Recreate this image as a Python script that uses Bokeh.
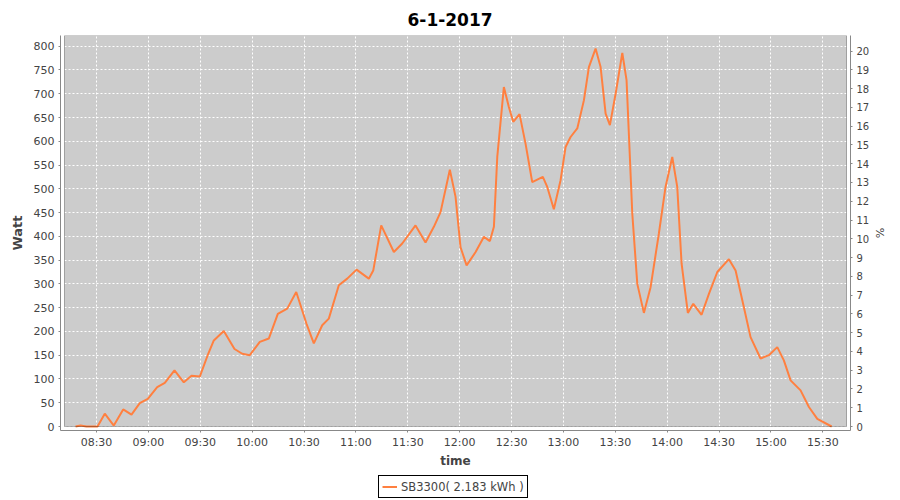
import numpy as np
from bokeh.plotting import figure
from bokeh.layouts import column
from bokeh.models import (Range1d, LinearAxis, FixedTicker, DatetimeTickFormatter,
                          BoxAnnotation, Legend, LegendItem, ColumnDataSource)
from bokeh.embed import file_html
from bokeh.resources import INLINE

# ---------------- data ----------------
DAY = "2017-06-01"
chart_title = "6-1-2017"
series_label = "SB3300( 2.183 kWh )"

times = [
    "08:17:54", "08:20:45", "08:24:12", "08:30:35", "08:34:48", "08:40:00", "08:45:26",
    "08:50:14", "08:55:02", "08:59:40", "09:05:06", "09:09:30", "09:15:06", "09:20:29",
    "09:24:56", "09:29:44", "09:34:36", "09:37:50", "09:43:37", "09:49:48", "09:54:16",
    "09:58:39", "10:04:26", "10:09:38", "10:14:51", "10:20:17", "10:25:30", "10:31:26",
    "10:35:40", "10:40:31", "10:44:20", "10:50:07", "10:54:59", "11:00:22", "11:07:28",
    "11:10:01", "11:14:38", "11:21:56", "11:26:47", "11:34:28", "11:40:15", "11:45:04",
    "11:48:56", "11:54:19", "11:57:37", "12:00:30", "12:04:00", "12:09:13", "12:14:01",
    "12:17:29", "12:19:47", "12:21:44", "12:25:33", "12:28:26", "12:30:58", "12:34:37",
    "12:38:05", "12:41:57", "12:48:05", "12:50:38", "12:54:27", "12:58:20", "13:01:14",
    "13:04:07", "13:08:00", "13:11:49", "13:14:43", "13:18:35", "13:21:29", "13:24:23",
    "13:26:52", "13:30:10", "13:34:02", "13:36:30", "13:39:48", "13:42:42", "13:46:31",
    "13:50:23", "13:55:11", "13:59:02", "14:02:55", "14:05:48", "14:08:18", "14:11:56",
    "14:15:04", "14:19:52", "14:24:07", "14:28:58", "14:35:40", "14:39:32", "14:44:20",
    "14:48:11", "14:53:58", "14:58:47", "15:03:38", "15:07:27", "15:11:20", "15:17:07",
    "15:21:56", "15:26:47", "15:35:05",
]
watts = [
    0, 2, 0, 0, 27, 2, 36,
    25, 49, 58, 83, 92, 118, 93,
    107, 105, 153, 181, 201, 163, 153,
    150, 178, 185, 237, 248, 283, 216,
    175, 213, 227, 297, 311, 330, 311,
    328, 423, 367, 385, 423, 387, 420,
    451, 540, 483, 377, 339, 367, 399,
    390, 420, 567, 714, 672, 641, 657,
    595, 514, 525, 504, 457, 518, 588,
    609, 627, 686, 756, 795, 756, 658,
    634, 700, 786, 728, 448, 300, 239,
    293, 406, 504, 567, 504, 343, 239,
    258, 235, 279, 325, 352, 328, 251,
    188, 143, 150, 167, 139, 97, 76,
    41, 16, 0,
]

time_ticks = ["08:30", "09:00", "09:30", "10:00", "10:30", "11:00", "11:30", "12:00",
              "12:30", "13:00", "13:30", "14:00", "14:30", "15:00", "15:30"]
watt_ticks = [0, 50, 100, 150, 200, 250, 300, 350, 400, 450, 500, 550, 600, 650, 700, 750, 800]
pct_ticks = [0, 1, 2, 3, 4, 5, 6, 7, 8, 9, 10, 11, 12, 13, 14, 15, 16, 17, 18, 19, 20]

x_limits = ["08:11:30", "15:43:40"]
watt_max = 822.5
pct_max = 20.83


def to_ms(t):
    if len(t) == 5:
        t = t + ":00"
    return float(np.datetime64(f"{DAY}T{t}").astype("datetime64[ms]").astype(np.int64))


xs = [to_ms(t) for t in times]
xtick_ms = [to_ms(t) for t in time_ticks]
x0, x1 = to_ms(x_limits[0]), to_ms(x_limits[1])

# ---------------- layout ----------------
W, H = 900, 472          # main chart; legend strip below takes the rest
LEG_H = 28
BL, BR, BT, BB = 60, 50, 35, 42
GAP = 4
INNER_W = W - BL - BR - 2 * GAP
INNER_H = H - BT - BB - GAP
dx = (x1 - x0) * GAP / INNER_W

FONT = "DejaVu Sans"
TXT = "#444444"
AXC = "#888888"
ORANGE = "#FF8040"

p = figure(
    output_backend="svg", toolbar_location=None,
    width=W, height=H,
    min_border_left=BL, min_border_right=BR, min_border_top=BT, min_border_bottom=BB,
    x_axis_type="datetime",
    x_range=Range1d(x0 - dx, x1 + dx),
    y_range=Range1d(-watt_max * GAP / INNER_H, watt_max),
    background_fill_color="white", border_fill_color="white",
    outline_line_color=None,
)
p.extra_y_ranges = {"pct": Range1d(-pct_max * GAP / INNER_H, pct_max)}

p.title.text = chart_title
p.title.align = "left"
p.title.offset = 347
p.title.vertical_align = "top"
p.title.text_font = FONT
p.title.text_font_size = "17px"
p.title.text_font_style = "bold"
p.title.text_color = "black"
p.title.standoff = 15

# plot area
p.add_layout(BoxAnnotation(left=x0, right=x1, bottom=0, top=watt_max,
                           fill_color="#CCCCCC", fill_alpha=1, line_color=None, level="image"))
p.add_layout(BoxAnnotation(left=x0, right=x1, bottom=0, top=watt_max,
                           fill_alpha=0, line_color="black", line_width=1, level="overlay"))

# grids
p.xgrid.ticker = FixedTicker(ticks=xtick_ms)
p.ygrid.ticker = FixedTicker(ticks=watt_ticks)
for g in (p.xgrid, p.ygrid):
    g.grid_line_color = "white"
    g.grid_line_dash = "2 2"
    g.grid_line_width = 1


def style_axis(ax, size="11px"):
    ax.axis_line_color = AXC
    ax.major_tick_line_color = AXC
    ax.major_tick_out = 2
    ax.major_tick_in = 0
    ax.minor_tick_line_color = None
    ax.major_label_text_font = FONT
    ax.major_label_text_font_size = size
    ax.major_label_text_color = TXT
    ax.axis_label_text_font = FONT
    ax.axis_label_text_color = TXT


xa = p.xaxis[0]
xa.ticker = FixedTicker(ticks=xtick_ms)
xa.formatter = DatetimeTickFormatter(minsec="%H:%M", minutes="%H:%M", hourmin="%H:%M",
                                     hours="%H:%M", days="%H:%M")
style_axis(xa)
xa.major_label_standoff = 3
xa.axis_label = "time"
xa.axis_label_text_font_size = "12px"
xa.axis_label_text_font_style = "bold"
xa.axis_label_standoff = 2

ya = p.yaxis[0]
ya.ticker = FixedTicker(ticks=watt_ticks)
style_axis(ya)
ya.major_label_standoff = 4
ya.axis_label = "Watt"
ya.axis_label_text_font_size = "13px"
ya.axis_label_text_font_style = "bold"
ya.axis_label_standoff = 6

ra = LinearAxis(y_range_name="pct", ticker=FixedTicker(ticks=pct_ticks), axis_label="%")
style_axis(ra, "10px")
ra.major_label_standoff = 4
ra.axis_label_text_font_size = "11px"
ra.axis_label_text_font_style = "normal"
ra.axis_label_standoff = 1
p.add_layout(ra, "right")

src = ColumnDataSource(dict(t=xs, w=watts))
r = p.line("t", "w", source=src, line_color=ORANGE, line_width=2)

# ---------------- legend strip ----------------
lf = figure(output_backend="svg", toolbar_location=None, width=W, height=LEG_H,
            x_range=Range1d(0, 1), y_range=Range1d(0, 1),
            x_axis_location=None, y_axis_location=None,
            min_border_left=0, min_border_right=0, min_border_top=0, min_border_bottom=0,
            outline_line_color=None, background_fill_color="white", border_fill_color="white")
lf.grid.visible = False
# same series, drawn far outside this strip's ranges: only its legend swatch shows
lr = lf.line(x=xs, y=watts, line_color=ORANGE, line_width=2)
leg = Legend(items=[LegendItem(label=series_label, renderers=[lr])],
             location=(318, 2), orientation="horizontal",
             border_line_color="black", border_line_width=1, border_line_alpha=1,
             background_fill_color="white", background_fill_alpha=1,
             label_text_font=FONT, label_text_font_size="11.5px", label_text_color=TXT,
             glyph_width=15, glyph_height=15, label_height=15, label_standoff=4,
             padding=3, margin=0, spacing=0)
lf.add_layout(leg, "center")

open("out.html", "w").write(file_html(column(p, lf), INLINE))
